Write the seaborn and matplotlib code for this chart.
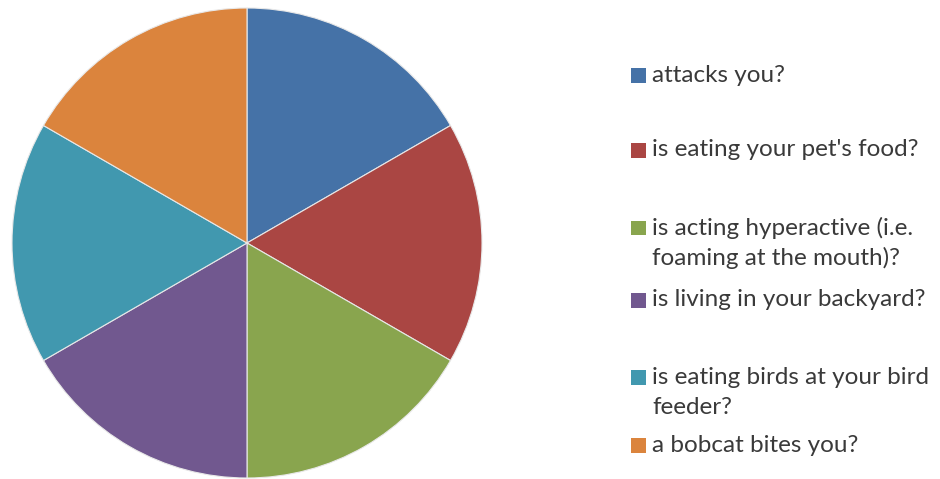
import matplotlib
matplotlib.use("Agg")
import matplotlib.pyplot as plt
import seaborn as sns
from matplotlib.patches import Rectangle

# six equal answers
labels = ["attacks you?",
          "is eating your pet's food?",
          "is acting hyperactive (i.e.\nfoaming at the mouth)?",
          "is living in your backyard?",
          "is eating birds at your bird\nfeeder?",
          "a bobcat bites you?"]
values = [1, 1, 1, 1, 1, 1]
colors = ["#4572A7", "#AA4643", "#89A54E", "#71588F", "#4198AF", "#DB843D"]

sns.set_style("white")
plt.rcParams['font.family'] = ['Lato', 'DejaVu Sans']

W, H = 940, 479
fig = plt.figure(figsize=(W / 100, H / 100), dpi=100)

# pie: center (247, 243) px, radius 235 px
cx, cy, r = 247, 243, 235
ax = fig.add_axes([(cx - r) / W, (H - cy - r) / H, 2 * r / W, 2 * r / H])
pal = sns.color_palette(colors)
ax.pie(values, colors=pal, startangle=90, counterclock=False,
       wedgeprops=dict(edgecolor="#e8e8e8", linewidth=0.8))
ax.set_xlim(-1.0, 1.0)
ax.set_ylim(-1.0, 1.0)
ax.set_aspect("equal")
ax.axis("off")

# legend entries, placed by hand (first-line centre in px from top)
entry_y = [75, 150, 228, 300, 377, 445]
line_gap = 30
for lab, col, y in zip(labels, pal, entry_y):
    fig.patches.append(Rectangle((631 / W, (H - y - 7.5) / H), 15 / W, 15 / H,
                                 transform=fig.transFigure, facecolor=col,
                                 edgecolor="none"))
    for k, line in enumerate(lab.split("\n")):
        fig.text(652 / W, (H - y - k * line_gap) / H, line, fontsize=17.5,
                 color="#3a3a3a", va="center", ha="left")

fig.savefig("out.png", dpi=100, facecolor="white")
